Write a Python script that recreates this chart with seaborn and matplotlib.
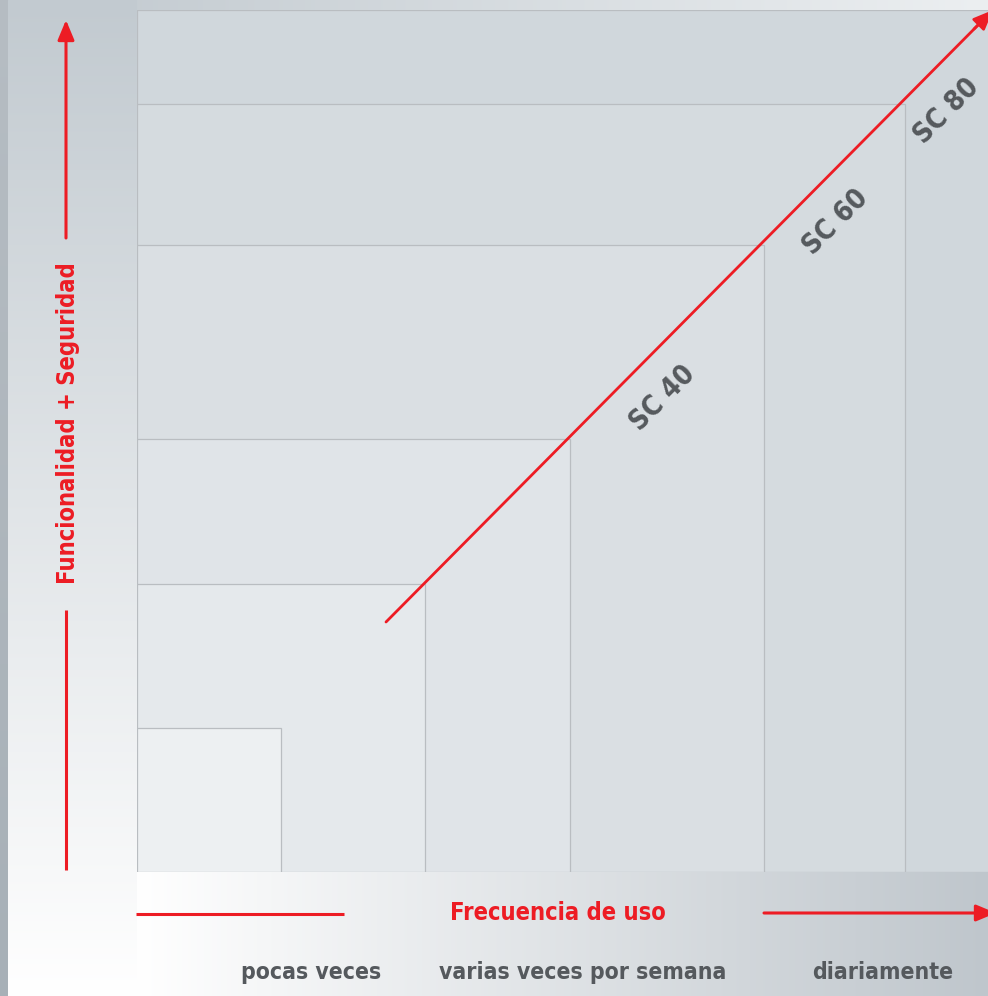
import numpy as np
import matplotlib
matplotlib.use("Agg")
import matplotlib.pyplot as plt
import seaborn as sns
from matplotlib.colors import to_rgb

# ---- data ----
square_sizes = [862, 768, 627, 433, 288, 144]          # nested squares, outer -> inner
square_colors = ["#d0d7dc", "#d5dbdf", "#dadfe3", "#e0e4e8", "#e5e9ec", "#edf0f2"]
line_x = [249, 851]
line_y = [250, 857]
grade_labels = ["SC 40", "SC 60", "SC 80"]
grade_x = [526, 699, 810]
grade_y = [474, 650, 761]
freq_labels = ["pocas veces", "varias veces por semana", "diariamente"]
freq_pos = [174, 446, 746]
x_title = "Frecuencia de uso"
y_title = "Funcionalidad + Seguridad"

RED = "#ed1c24"
GREY_TXT = "#55595d"
EDGE = "#b9bdc1"

sns.set_style("white")
plt.rcParams["font.family"] = ["DejaVu Sans"]
plt.rcParams["font.stretch"] = "condensed"

W, H = 988, 996
fig = plt.figure(figsize=(W / 100, H / 100), dpi=100)

# ---- background gradient ----
bg = fig.add_axes([0, 0, 1, 1])
bg.set_xlim(0, W)
bg.set_ylim(H, 0)
bg.axis("off")
yy, xx = np.mgrid[0:H, 0:W]
c_top = np.array(to_rgb("#c2cad0"))
c_white = np.array([1.0, 1.0, 1.0])
c_right = np.array(to_rgb("#bfc6cc"))
t = np.clip(yy / H, 0, 1)[..., None]
left = c_top * (1 - t) + c_white * t
s = np.clip((xx - 137) / (W - 137), 0, 1)[..., None]
bottom = c_white * (1 - s) + c_right * s
s2 = np.clip(xx / W, 0, 1)[..., None]
top = np.array(to_rgb("#c0c8ce")) * (1 - s2) + np.array(to_rgb("#eceff1")) * s2
img = np.where((xx < 137)[..., None], left, bottom)
img = np.where((yy < 12)[..., None] & (xx >= 137)[..., None], top, img)
strip_t = (yy / H)[..., None]
strip = np.array(to_rgb("#b6bdc3")) * (1 - strip_t) + np.array(to_rgb("#a7b0b7")) * strip_t
img = np.where((xx < 8)[..., None], strip, img)
bg.imshow(img, extent=[0, W, H, 0], aspect="auto", zorder=0)

# ---- main axes ----
x0, y0 = 137, 872
ax = fig.add_axes([x0 / W, (H - y0) / H, (W - x0) / W, (y0 - 10) / H])
ax.set_xlim(0, W - x0)
ax.set_ylim(0, y0 - 10)
ax.patch.set_alpha(0)
for sp in ax.spines.values():
    sp.set_visible(False)

for size, col in zip(square_sizes, square_colors):
    ax.bar(0, size, width=size, align="edge", color=col, edgecolor=EDGE,
           linewidth=0.9, zorder=1)

sns.lineplot(x=line_x, y=line_y, color=RED, linewidth=2.0, ax=ax, zorder=3)
ax.annotate("", xy=(line_x[1] + 5, line_y[1] + 5),
            xytext=(line_x[1] - 14, line_y[1] - 14),
            arrowprops=dict(arrowstyle="-|>,head_length=1.2,head_width=0.5",
                            color=RED, lw=2.0, shrinkA=0, shrinkB=0),
            annotation_clip=False, zorder=4)

for lab, gx, gy in zip(grade_labels, grade_x, grade_y):
    ax.text(gx, gy, lab, rotation=45, rotation_mode="anchor", ha="center",
            va="center", fontsize=20, color=GREY_TXT, fontweight="bold",
            fontstretch="condensed", zorder=5)

ax.set_xticks(freq_pos, freq_labels)
ax.set_yticks([])
ax.tick_params(axis="x", length=0, pad=64, labelsize=16.5, labelcolor=GREY_TXT)
for tl in ax.get_xticklabels():
    tl.set_fontweight("bold")
    tl.set_fontstretch("condensed")

# ---- axis titles & arrows (figure pixel coords) ----
bg.text(68, 423, y_title, rotation=90, ha="center", va="center",
        fontsize=17, color=RED, fontweight="bold", fontstretch="condensed")
bg.annotate("", xy=(66, 20), xytext=(66, 238),
            arrowprops=dict(arrowstyle="-|>,head_length=1.2,head_width=0.5",
                            color=RED, lw=2.2, shrinkA=0, shrinkB=0))
bg.plot([66, 66], [610, 870], color=RED, lw=2.2, solid_capstyle="butt")

bg.text(558, 913, x_title, ha="center", va="center", fontsize=17,
        color=RED, fontweight="bold", fontstretch="condensed")
bg.plot([136, 344], [914, 914], color=RED, lw=2.2, solid_capstyle="butt")
bg.annotate("", xy=(996, 913), xytext=(764, 913),
            arrowprops=dict(arrowstyle="-|>,head_length=1.2,head_width=0.5",
                            color=RED, lw=2.2, shrinkA=0, shrinkB=0),
            annotation_clip=False)

fig.savefig("out.png", dpi=100)
